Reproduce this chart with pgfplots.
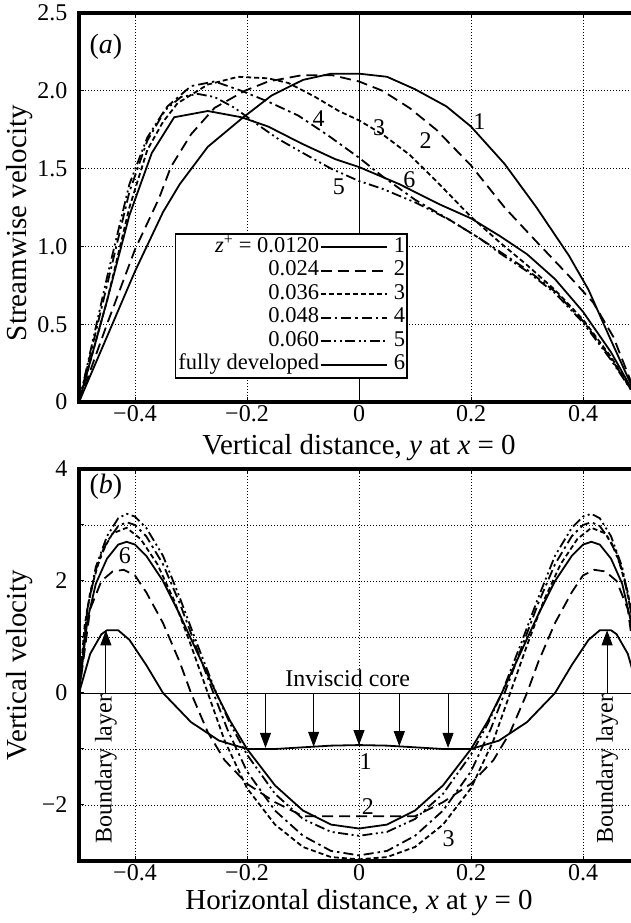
\documentclass[border=0pt]{standalone}
\usepackage{fontspec}
\setmainfont{Liberation Serif}
\usepackage{pgfplots}
\pgfplotsset{compat=1.18}
\usetikzlibrary{arrows.meta}

\pgfplotsset{
  c1/.style={black, line width=1.8pt, solid},
  c2/.style={black, line width=1.8pt, dash pattern=on 11pt off 6pt},
  c3/.style={black, line width=1.8pt, dash pattern=on 5pt off 3pt},
  c4/.style={black, line width=1.8pt, dash pattern=on 10pt off 4pt on 2.5pt off 4pt},
  c5/.style={black, line width=1.8pt, dash pattern=on 10pt off 3.5pt on 2pt off 3.5pt on 2pt off 3.5pt},
  c6/.style={black, line width=1.8pt, solid},
  leg/.style={legend image code/.code={\draw[##1] (0pt,0pt) -- (66pt,0pt); \node[anchor=west,inner sep=0pt] at (72pt,0pt) {#1};}},
  myaxis/.style={
    scale only axis, width=560pt,
    xmin=-0.5, xmax=0.5,
    axis line style={line width=4.5pt},
    grid=major,
    grid style={black, line width=0.8pt, dash pattern=on 1pt off 2pt},
    xtick={-0.4,-0.2,0,0.2,0.4},
    xticklabels={−0.4,−0.2,0,0.2,0.4},
    tick style={black, line width=1pt},
    major tick length=5pt,
    tick align=inside,
    ticklabel style={font=\fontsize{24}{24}\selectfont},
    yticklabel style={xshift=-8pt},
    label style={font=\fontsize{29}{29}\selectfont},
  },
}

\begin{document}
\begin{tikzpicture}
% ---------------- (a) ----------------
\begin{axis}[myaxis,
  at={(79pt,910pt)}, anchor=north west, height=389pt,
  ymin=0, ymax=2.5,
  ytick={0,0.5,1.0,1.5,2.0,2.5},
  yticklabels={0,0.5,1.0,1.5,2.0,2.5},
  xlabel={Vertical distance, \textit{y} at \textit{x} = 0},
  ylabel={Streamwise velocity},
  xlabel style={at={(axis description cs:0.5,-0.118)}, anchor=center},
  ylabel style={at={(axis description cs:-0.107,0.46)}, anchor=center},
  legend plot pos=right,
  legend cell align=right,
  legend style={at={(0.171,0.434)}, anchor=north west, draw=black, line width=1.4pt, fill=white,
    font=\fontsize{22.5}{22.5}\selectfont, inner sep=2pt, row sep=1pt, column sep=0pt,
    nodes={inner sep=1pt, text height=15.5pt, text depth=5pt}},
]
\draw[black, line width=0.8pt] (axis cs:0,0) -- (axis cs:0,2.5);

\addplot[c1, leg=1] coordinates {(-0.5,0) (-0.45,0.42) (-0.4,0.84) (-0.35,1.22) (-0.32,1.40) (-0.27,1.64) (-0.21,1.82) (-0.156,1.97) (-0.1,2.07) (-0.05,2.11) (0,2.11) (0.05,2.09) (0.1,2.01) (0.156,1.9) (0.2,1.77) (0.26,1.53) (0.317,1.25) (0.375,0.94) (0.41,0.72) (0.447,0.42) (0.5,0)};
\addlegendentry{\textit{z}\textsuperscript{+} = 0.0120}
\addplot[c2, leg=2] coordinates {(-0.5,0) (-0.45,0.5) (-0.4,0.98) (-0.357,1.31) (-0.336,1.51) (-0.3,1.72) (-0.258,1.89) (-0.204,2.0) (-0.162,2.06) (-0.102,2.1) (-0.048,2.1) (0,2.06) (0.042,2.0) (0.09,1.89) (0.138,1.75) (0.2,1.52) (0.26,1.25) (0.317,1.03) (0.375,0.81) (0.418,0.64) (0.454,0.42) (0.5,0)};
\addlegendentry{0.024}
\addplot[c3, leg=3] coordinates {(-0.5,0) (-0.45,0.65) (-0.41,1.25) (-0.378,1.62) (-0.35,1.8) (-0.324,1.92) (-0.27,2.04) (-0.216,2.09) (-0.162,2.08) (-0.126,2.05) (-0.078,1.96) (-0.036,1.87) (0,1.81) (0.042,1.72) (0.09,1.59) (0.138,1.42) (0.2,1.19) (0.25,1.03) (0.3,0.88) (0.35,0.72) (0.4,0.53) (0.45,0.29) (0.5,0)};
\addlegendentry{0.036}
\addplot[c4, leg=4] coordinates {(-0.5,0) (-0.45,0.75) (-0.41,1.35) (-0.378,1.68) (-0.342,1.9) (-0.3,2.03) (-0.258,2.06) (-0.21,2.0) (-0.162,1.93) (-0.108,1.84) (-0.054,1.71) (0,1.57) (0.042,1.45) (0.1,1.3) (0.162,1.17) (0.216,1.05) (0.25,0.97) (0.3,0.85) (0.35,0.71) (0.4,0.52) (0.45,0.28) (0.5,0)};
\addlegendentry{0.048}
\addplot[c5, leg=5] coordinates {(-0.5,0) (-0.45,0.8) (-0.41,1.4) (-0.378,1.7) (-0.348,1.87) (-0.318,1.96) (-0.288,1.98) (-0.258,1.96) (-0.222,1.89) (-0.18,1.78) (-0.144,1.69) (-0.1,1.6) (-0.05,1.5) (0,1.42) (0.042,1.37) (0.102,1.28) (0.162,1.17) (0.216,1.05) (0.25,0.96) (0.3,0.84) (0.35,0.7) (0.4,0.51) (0.45,0.27) (0.5,0)};
\addlegendentry{0.060}
\addplot[c6, leg=6] coordinates {(-0.5,0) (-0.45,0.65) (-0.41,1.2) (-0.37,1.6) (-0.33,1.83) (-0.3,1.85) (-0.27,1.87) (-0.21,1.83) (-0.162,1.77) (-0.102,1.66) (-0.042,1.56) (0,1.51) (0.072,1.4) (0.144,1.27) (0.2,1.18) (0.25,1.07) (0.3,0.95) (0.35,0.79) (0.4,0.58) (0.45,0.32) (0.5,0)};
\addlegendentry{fully developed}

\node[font=\fontsize{28}{28}\selectfont] at (axis cs:-0.452,2.28) {(\textit{a})};
\begin{scope}[font=\fontsize{24}{24}\selectfont]
\node at (axis cs:0.215,1.80) {1};
\node at (axis cs:0.119,1.68) {2};
\node at (axis cs:0.036,1.76) {3};
\node at (axis cs:-0.072,1.82) {4};
\node at (axis cs:-0.036,1.385) {5};
\node at (axis cs:0.09,1.43) {6};
\end{scope}
\end{axis}

% ---------------- (b) ----------------
\begin{axis}[myaxis,
  at={(79pt,454pt)}, anchor=north west, height=392pt,
  ymin=-3, ymax=4,
  ytick={-2,-1,0,1,2,3,4},
  yticklabels={−2,,0,,2,,4},
  xlabel={Horizontal distance, \textit{x} at \textit{y} = 0},
  ylabel={Vertical velocity},
  xlabel style={at={(axis description cs:0.5,-0.105)}, anchor=center},
  ylabel style={at={(axis description cs:-0.107,0.5)}, anchor=center},
]
\draw[black, line width=0.8pt] (axis cs:-0.5,0) -- (axis cs:0.5,0);

\addplot[c1] coordinates {(-0.5,0) (-0.48,0.7) (-0.46,1.05) (-0.45,1.12) (-0.43,1.12) (-0.41,0.95) (-0.38,0.5) (-0.35,0) (-0.3,-0.52) (-0.25,-0.85) (-0.2,-1.0) (-0.15,-1.0) (-0.1,-0.97) (-0.05,-0.94) (0,-0.93) (0.05,-0.94) (0.1,-0.97) (0.15,-1.0) (0.2,-1.0) (0.25,-0.85) (0.3,-0.52) (0.35,0) (0.38,0.5) (0.41,0.95) (0.43,1.12) (0.45,1.12) (0.46,1.05) (0.48,0.7) (0.5,0)};
\addplot[c2] coordinates {(-0.5,0) (-0.48,1.5) (-0.46,2.0) (-0.44,2.17) (-0.42,2.2) (-0.4,2.1) (-0.38,1.8) (-0.35,1.25) (-0.32,0.55) (-0.3,0.0) (-0.27,-0.7) (-0.24,-1.2) (-0.2,-1.62) (-0.15,-1.95) (-0.1,-2.2) (0,-2.2) (0.1,-2.2) (0.15,-1.95) (0.2,-1.62) (0.24,-1.2) (0.27,-0.7) (0.3,0) (0.32,0.55) (0.35,1.25) (0.38,1.8) (0.4,2.1) (0.42,2.2) (0.44,2.17) (0.46,2.0) (0.48,1.5) (0.5,0)};
\addplot[c3] coordinates {(-0.5,0) (-0.49,1.2) (-0.48,1.8) (-0.46,2.5) (-0.44,2.85) (-0.415,2.95) (-0.39,2.75) (-0.36,2.3) (-0.33,1.65) (-0.3,0.85) (-0.27,0) (-0.24,-0.85) (-0.2,-1.7) (-0.15,-2.35) (-0.1,-2.75) (-0.05,-2.93) (0,-2.97) (0.05,-2.93) (0.1,-2.75) (0.15,-2.35) (0.2,-1.7) (0.24,-0.85) (0.27,0) (0.3,0.85) (0.33,1.65) (0.36,2.3) (0.39,2.75) (0.415,2.95) (0.44,2.85) (0.46,2.5) (0.48,1.8) (0.49,1.2) (0.5,0)};
\addplot[c4] coordinates {(-0.5,0) (-0.485,1.5) (-0.47,2.2) (-0.45,2.7) (-0.43,2.98) (-0.415,3.05) (-0.4,3.0) (-0.38,2.8) (-0.35,2.3) (-0.32,1.6) (-0.29,0.8) (-0.26,0) (-0.235,-0.65) (-0.2,-1.4) (-0.15,-2.1) (-0.1,-2.55) (-0.05,-2.82) (0,-2.9) (0.05,-2.82) (0.1,-2.55) (0.15,-2.1) (0.2,-1.4) (0.235,-0.65) (0.26,0) (0.29,0.8) (0.32,1.6) (0.35,2.3) (0.38,2.8) (0.4,3.0) (0.415,3.05) (0.43,2.98) (0.45,2.7) (0.47,2.2) (0.485,1.5) (0.5,0)};
\addplot[c5] coordinates {(-0.5,0) (-0.485,1.5) (-0.47,2.25) (-0.45,2.8) (-0.43,3.12) (-0.415,3.2) (-0.4,3.15) (-0.38,2.95) (-0.35,2.45) (-0.32,1.7) (-0.29,0.9) (-0.255,0) (-0.23,-0.55) (-0.2,-1.1) (-0.15,-1.8) (-0.1,-2.25) (-0.05,-2.48) (0,-2.55) (0.05,-2.48) (0.1,-2.25) (0.15,-1.8) (0.2,-1.1) (0.23,-0.55) (0.255,0) (0.29,0.9) (0.32,1.7) (0.35,2.45) (0.38,2.95) (0.4,3.15) (0.415,3.2) (0.43,3.12) (0.45,2.8) (0.47,2.25) (0.485,1.5) (0.5,0)};
\addplot[c6] coordinates {(-0.5,0) (-0.485,1.3) (-0.47,1.95) (-0.45,2.4) (-0.43,2.65) (-0.415,2.7) (-0.4,2.65) (-0.38,2.45) (-0.35,2.0) (-0.32,1.4) (-0.29,0.75) (-0.255,0) (-0.23,-0.5) (-0.2,-1.0) (-0.15,-1.65) (-0.1,-2.1) (-0.05,-2.35) (0,-2.42) (0.05,-2.35) (0.1,-2.1) (0.15,-1.65) (0.2,-1.0) (0.23,-0.5) (0.255,0) (0.29,0.75) (0.32,1.4) (0.35,2.0) (0.38,2.45) (0.4,2.65) (0.415,2.7) (0.43,2.65) (0.45,2.4) (0.47,1.95) (0.485,1.3) (0.5,0)};

\begin{scope}[line width=0.9pt, -{Triangle[width=11pt,length=15pt]}]
\draw (axis cs:-0.167,0) -- (axis cs:-0.167,-0.98);
\draw (axis cs:-0.081,0) -- (axis cs:-0.081,-0.96);
\draw (axis cs:0,0) -- (axis cs:0,-0.93);
\draw (axis cs:0.072,0) -- (axis cs:0.072,-0.95);
\draw (axis cs:0.159,0) -- (axis cs:0.159,-0.98);
\draw (axis cs:-0.452,0) -- (axis cs:-0.452,1.12);
\draw (axis cs:0.443,0) -- (axis cs:0.443,1.12);
\end{scope}

\node[font=\fontsize{28}{28}\selectfont] at (axis cs:-0.452,3.68) {(\textit{b})};
\begin{scope}[font=\fontsize{24}{24}\selectfont]
\node at (axis cs:-0.02,0.27) {Inviscid core};
\node[rotate=90] at (axis cs:-0.452,-1.36) {Boundary layer};
\node[rotate=90] at (axis cs:0.443,-1.36) {Boundary layer};
\node at (axis cs:-0.418,2.45) {6};
\node at (axis cs:0.012,-1.22) {1};
\node at (axis cs:0.016,-2.03) {2};
\node at (axis cs:0.16,-2.6) {3};
\end{scope}
\end{axis}

\pgfresetboundingbox
\path[use as bounding box] (0,0) rectangle (631pt,923pt);
\end{tikzpicture}
\end{document}
